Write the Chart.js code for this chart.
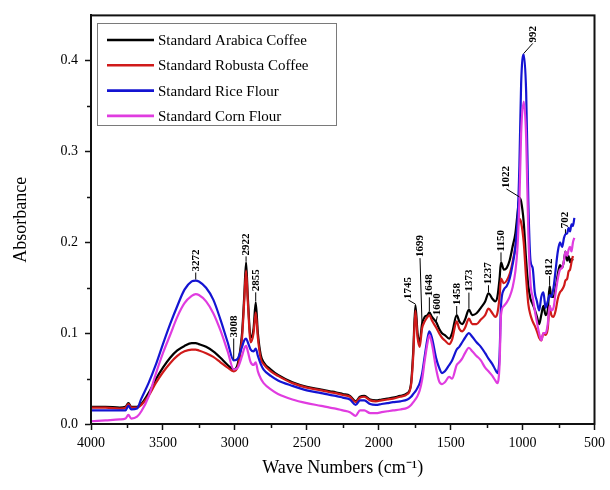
<!DOCTYPE html>
<html>
<head>
<meta charset="utf-8">
<title>FTIR spectra</title>
<script src="https://cdn.jsdelivr.net/npm/chart.js@4.4.1/dist/chart.umd.min.js"></script>
<style>
  html, body { margin: 0; padding: 0; background: #fff; }
  #wrap { width: 610px; height: 490px; }
</style>
</head>
<body>
<div id="wrap"><canvas id="ftir" width="610" height="490"></canvas></div>
<script>
// wave numbers (cm-1) shared by the four spectra
const wavenumbers = [
  4000, 3900, 3800, 3760, 3740, 3720, 3680, 3650, 3600, 3550,
  3500, 3450, 3400, 3350, 3300, 3272, 3250, 3200, 3150, 3100,
  3050, 3008, 2980, 2950, 2935, 2922, 2910, 2890, 2870, 2855,
  2840, 2820, 2800, 2750, 2700, 2600, 2500, 2400, 2340, 2300,
  2250, 2200, 2160, 2130, 2100, 2060, 2020, 1980, 1940, 1900,
  1850, 1800, 1775, 1760, 1745, 1730, 1715, 1699, 1680, 1660,
  1648, 1630, 1600, 1580, 1560, 1540, 1510, 1490, 1458, 1440,
  1420, 1400, 1373, 1350, 1320, 1290, 1260, 1237, 1210, 1190,
  1175, 1160, 1150, 1130, 1110, 1090, 1070, 1050, 1035, 1022,
  1010, 992, 975, 960, 945, 930, 915, 900, 885, 870,
  855, 840, 825, 812, 800, 785, 770, 755, 740, 725,
  712, 702, 690, 680, 670, 660, 650, 640
];

const arabica = [
  0.019, 0.019, 0.018, 0.019, 0.023, 0.019, 0.019, 0.022, 0.034, 0.049,
  0.062, 0.073, 0.081, 0.086, 0.089, 0.089, 0.088, 0.085, 0.080, 0.073,
  0.065, 0.060, 0.066, 0.100, 0.140, 0.178, 0.140, 0.095, 0.105, 0.134,
  0.100, 0.076, 0.068, 0.060, 0.054, 0.046, 0.041, 0.038, 0.036, 0.035,
  0.033, 0.031, 0.025, 0.030, 0.031, 0.027, 0.026, 0.027, 0.028, 0.029,
  0.031, 0.034, 0.045, 0.080, 0.131, 0.100, 0.090, 0.110, 0.118, 0.120,
  0.123, 0.118, 0.112, 0.105, 0.100, 0.098, 0.094, 0.100, 0.120, 0.113,
  0.110, 0.115, 0.126, 0.120, 0.122, 0.128, 0.135, 0.144, 0.138, 0.135,
  0.140, 0.160, 0.178, 0.170, 0.172, 0.180, 0.195, 0.210, 0.232, 0.249,
  0.245, 0.222, 0.180, 0.152, 0.138, 0.132, 0.126, 0.118, 0.110, 0.120,
  0.130, 0.120, 0.125, 0.152, 0.140, 0.140, 0.150, 0.165, 0.175, 0.172,
  0.180, 0.190, 0.180, 0.185, 0.178, 0.182, 0.180, null
];

const robusta = [
  0.018, 0.018, 0.017, 0.018, 0.022, 0.018, 0.018, 0.021, 0.031, 0.045,
  0.057, 0.067, 0.075, 0.080, 0.082, 0.082, 0.081, 0.078, 0.074, 0.068,
  0.062, 0.058, 0.063, 0.095, 0.135, 0.169, 0.135, 0.090, 0.100, 0.123,
  0.095, 0.072, 0.066, 0.058, 0.053, 0.045, 0.040, 0.037, 0.035, 0.034,
  0.032, 0.030, 0.024, 0.029, 0.030, 0.026, 0.025, 0.026, 0.027, 0.028,
  0.030, 0.033, 0.043, 0.075, 0.125, 0.095, 0.085, 0.105, 0.113, 0.118,
  0.120, 0.114, 0.106, 0.100, 0.095, 0.092, 0.088, 0.093, 0.113, 0.105,
  0.102, 0.106, 0.116, 0.110, 0.110, 0.115, 0.120, 0.127, 0.122, 0.118,
  0.122, 0.140, 0.160, 0.155, 0.158, 0.165, 0.178, 0.195, 0.215, 0.226,
  0.222, 0.200, 0.160, 0.132, 0.120, 0.113, 0.108, 0.102, 0.095, 0.092,
  0.100, 0.098, 0.105, 0.130, 0.120, 0.118, 0.125, 0.138, 0.145, 0.148,
  0.152, 0.158, 0.160, 0.168, 0.170, 0.178, 0.185, null
];

const riceFlour = [
  0.015, 0.015, 0.015, 0.015, 0.020, 0.016, 0.017, 0.028, 0.045, 0.065,
  0.088, 0.110, 0.130, 0.148, 0.157, 0.158, 0.157, 0.150, 0.137, 0.115,
  0.090, 0.070, 0.072, 0.085, 0.092, 0.094, 0.090, 0.082, 0.080, 0.083,
  0.075, 0.066, 0.060, 0.053, 0.048, 0.042, 0.037, 0.034, 0.032, 0.031,
  0.029, 0.027, 0.021, 0.026, 0.026, 0.022, 0.021, 0.022, 0.023, 0.024,
  0.025, 0.027, 0.030, 0.033, 0.036, 0.040, 0.045, 0.055, 0.075, 0.095,
  0.102, 0.095, 0.072, 0.062, 0.056, 0.058, 0.065, 0.070, 0.082, 0.085,
  0.090, 0.095, 0.100, 0.096, 0.090, 0.085, 0.078, 0.072, 0.066, 0.060,
  0.056, 0.075, 0.130, 0.148, 0.152, 0.160, 0.175, 0.195, 0.225, 0.285,
  0.375, 0.407, 0.365, 0.245, 0.180, 0.172, 0.145, 0.135, 0.125, 0.140,
  0.145, 0.128, 0.135, 0.142, 0.140, 0.150, 0.170, 0.190, 0.200, 0.195,
  0.205, 0.209, 0.210, 0.216, 0.212, 0.220, 0.218, 0.227
];

const cornFlour = [
  0.003, 0.004, 0.005, 0.006, 0.010, 0.006, 0.008, 0.014, 0.030, 0.055,
  0.078, 0.098, 0.118, 0.133, 0.141, 0.143, 0.142, 0.135, 0.122, 0.103,
  0.080, 0.060, 0.062, 0.075, 0.083, 0.086, 0.080, 0.068, 0.065, 0.068,
  0.058, 0.050, 0.045, 0.038, 0.033, 0.027, 0.023, 0.020, 0.018, 0.017,
  0.015, 0.013, 0.009, 0.015, 0.015, 0.012, 0.012, 0.013, 0.014, 0.015,
  0.016, 0.018, 0.021, 0.024, 0.027, 0.031, 0.037, 0.048, 0.070, 0.090,
  0.098, 0.088, 0.060, 0.047, 0.044, 0.046, 0.052, 0.050, 0.065, 0.068,
  0.072, 0.078, 0.084, 0.080, 0.075, 0.070, 0.062, 0.058, 0.053, 0.048,
  0.045, 0.065, 0.120, 0.130, 0.134, 0.140, 0.150, 0.168, 0.195, 0.245,
  0.320, 0.355, 0.315, 0.210, 0.155, 0.140, 0.125, 0.112, 0.100, 0.092,
  0.100, 0.100, 0.110, 0.130, 0.125, 0.128, 0.145, 0.160, 0.170, 0.172,
  0.180, 0.190, 0.185, 0.192, 0.195, 0.190, 0.200, 0.205
];

const seriesNames = ['Standard Arabica Coffee', 'Standard Robusta Coffee', 'Standard Rice Flour', 'Standard Corn Flour'];
const seriesValues = [arabica, robusta, riceFlour, cornFlour];
const seriesColors = ['#000000', '#d01a1a', '#1414d2', '#e03ce0'];

// assigned bands and the spectrum each marker points at
const peaks = [3272, 3008, 2922, 2855, 1745, 1699, 1648, 1600, 1458, 1373, 1237, 1150, 1022, 992, 812, 702];
const peakSeries = [2, 2, 0, 0, 0, 0, 0, 0, 0, 0, 0, 0, 0, 2, 0, 2];
// label placement: [horizontal shift, leader length] in px
const peakOffsets = [[0, 8], [0, 22], [0, 6], [0, 10], [-7, 5], [-2, 66], [0, 15], [1, 6],
                     [0, 9], [0, 17], [0, 8], [0, 10], [-13, 9], [9, 11], [0, 10], [0, 5]];

const SERIF = '"Liberation Serif", "Times New Roman", serif';

const decorations = {
  id: 'decorations',
  afterDraw(chart) {
    const { ctx, chartArea: a, scales: { x, y } } = chart;
    ctx.save();

    // closed frame round the plot
    ctx.strokeStyle = '#111';
    ctx.lineWidth = 2;
    ctx.strokeRect(a.left, a.top, a.right - a.left, a.bottom - a.top);

    // minor ticks between the labelled ones
    ctx.lineWidth = 1.5;
    ctx.beginPath();
    for (let v = 750; v < 4000; v += 500) {
      const px = Math.round(x.getPixelForValue(v)) + 0.5;
      ctx.moveTo(px, a.bottom);
      ctx.lineTo(px, a.bottom + 4);
    }
    for (let k = 0; k < 4; k++) {
      const py = Math.round(y.getPixelForValue(0.05 + k * 0.1)) + 0.5;
      ctx.moveTo(a.left, py);
      ctx.lineTo(a.left - 4, py);
    }
    ctx.stroke();

    // legend box
    ctx.strokeStyle = '#7a7a7a';
    ctx.lineWidth = 1;
    ctx.strokeRect(97.5, 23.5, 239, 102);
    ctx.font = '15px ' + SERIF;
    ctx.textAlign = 'left';
    ctx.textBaseline = 'middle';
    seriesNames.forEach((name, i) => {
      const ry = 40 + i * 25.3;
      ctx.strokeStyle = seriesColors[i];
      ctx.lineWidth = 2.6;
      ctx.beginPath();
      ctx.moveTo(107, ry);
      ctx.lineTo(154, ry);
      ctx.stroke();
      ctx.fillStyle = '#000';
      ctx.fillText(name, 158, ry + 1);
    });

    // band markers
    ctx.font = 'bold 11px ' + SERIF;
    ctx.strokeStyle = '#000';
    ctx.fillStyle = '#000';
    ctx.lineWidth = 1;
    peaks.forEach((wn, i) => {
      const idx = wavenumbers.indexOf(wn);
      const px = x.getPixelForValue(wn);
      const py = y.getPixelForValue(seriesValues[peakSeries[i]][idx]);
      const [dx, gap] = peakOffsets[i];
      const tx = px + dx;
      const ty = py - gap;
      ctx.beginPath();
      ctx.moveTo(px, py - 1);
      ctx.lineTo(tx, ty);
      ctx.stroke();
      ctx.save();
      ctx.translate(tx, ty - 1);
      ctx.rotate(-Math.PI / 2);
      ctx.textAlign = 'left';
      ctx.textBaseline = 'middle';
      ctx.fillText(String(wn), 0, 0);
      ctx.restore();
    });

    ctx.restore();
  }
};

const datasets = seriesValues.map((vals, i) => ({
  label: seriesNames[i],
  data: vals.map((v, j) => ({ x: wavenumbers[j], y: v })),
  borderColor: seriesColors[i],
  borderWidth: 2.2,
  pointRadius: 0,
  cubicInterpolationMode: 'monotone',
  order: 4 - i
}));

new Chart(document.getElementById('ftir'), {
  type: 'line',
  data: { datasets },
  options: {
    responsive: false,
    animation: false,
    layout: { padding: { top: 13, right: 15, left: 0, bottom: 0 } },
    plugins: { legend: { display: false }, tooltip: { enabled: false } },
    scales: {
      x: {
        type: 'linear',
        reverse: true,
        min: 500,
        max: 4000,
        afterFit: (s) => { s.height = 66; },
        grid: { drawOnChartArea: false, tickLength: 6, tickWidth: 1.5, tickColor: '#111' },
        border: { color: '#111', width: 2 },
        ticks: {
          stepSize: 500,
          padding: 5,
          maxRotation: 0,
          color: '#000',
          font: { family: SERIF, size: 14 },
          callback: (v) => String(v)
        },
        title: {
          display: true,
          text: 'Wave Numbers (cm\u207B\u00B9)',
          color: '#000',
          font: { family: SERIF, size: 18 },
          padding: { top: 0, bottom: 11 }
        }
      },
      y: {
        min: 0,
        max: 0.45,
        afterFit: (s) => { s.width = 91; },
        grid: { drawOnChartArea: false, tickLength: 6, tickWidth: 1.5, tickColor: '#111' },
        border: { color: '#111', width: 2 },
        ticks: {
          stepSize: 0.1,
          includeBounds: false,
          padding: 7,
          color: '#000',
          font: { family: SERIF, size: 14 },
          callback: (v) => v.toFixed(1)
        },
        title: {
          display: true,
          text: 'Absorbance',
          color: '#000',
          font: { family: SERIF, size: 18 },
          padding: { top: 10, bottom: 0 }
        }
      }
    }
  },
  plugins: [decorations]
});
</script>
</body>
</html>
